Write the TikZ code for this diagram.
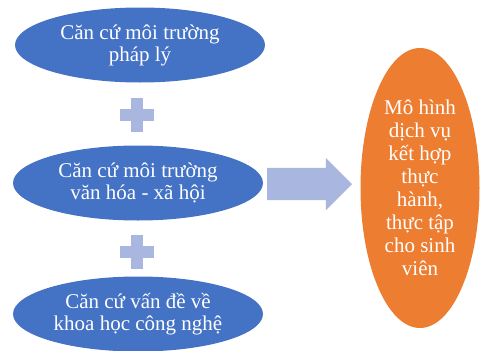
\documentclass[tikz,border=0pt]{standalone}
\usepackage{fontspec}
\setmainfont{Liberation Serif}
\usetikzlibrary{shapes.geometric,shapes.arrows}
\definecolor{ovalblue}{HTML}{4472C4}
\definecolor{plusblue}{HTML}{A9B7E0}
\definecolor{ovalorange}{HTML}{ED7D31}

\begin{document}
\begin{tikzpicture}[x=1pt, y=-1pt,
  oval/.style={ellipse, fill=#1, inner sep=0pt, minimum width=250pt, minimum height=75pt, align=center, text=white, font=\fontsize{21}{22}\selectfont},
  plusbar/.style={fill=plusblue},
  bigarrow/.style={single arrow, fill=plusblue, inner xsep=0pt, inner ysep=16pt, outer sep=0pt, minimum height=85pt, single arrow head extend=10pt}
]
  \useasboundingbox (0,0) rectangle (480,351);

  \node[oval=ovalblue] (legal) at (140,45) {Căn cứ môi trường\\pháp lý};
  \node[oval=ovalblue] (culture) at (138,183) {Căn cứ môi trường\\văn hóa - xã hội};
  \node[oval=ovalblue] (tech) at (138,314) {Căn cứ vấn đề về\\khoa học công nghệ};

  % plus signs between the ovals
  \foreach \cy in {115,252} {
    \fill[plusbar] (120,\cy-6) rectangle (154,\cy+6);
    \fill[plusbar] (131,\cy-17) rectangle (143,\cy+17);
  }

  \node[bigarrow, anchor=tail] (arr) at (267,184) {};

  \node[oval=ovalorange, minimum width=119pt, minimum height=280pt, font=\fontsize{21}{23}\selectfont] (model) at (420,188)
    {Mô hình\\dịch vụ\\kết hợp\\thực\\hành,\\thực tập\\cho sinh\\viên};
\end{tikzpicture}
\end{document}
